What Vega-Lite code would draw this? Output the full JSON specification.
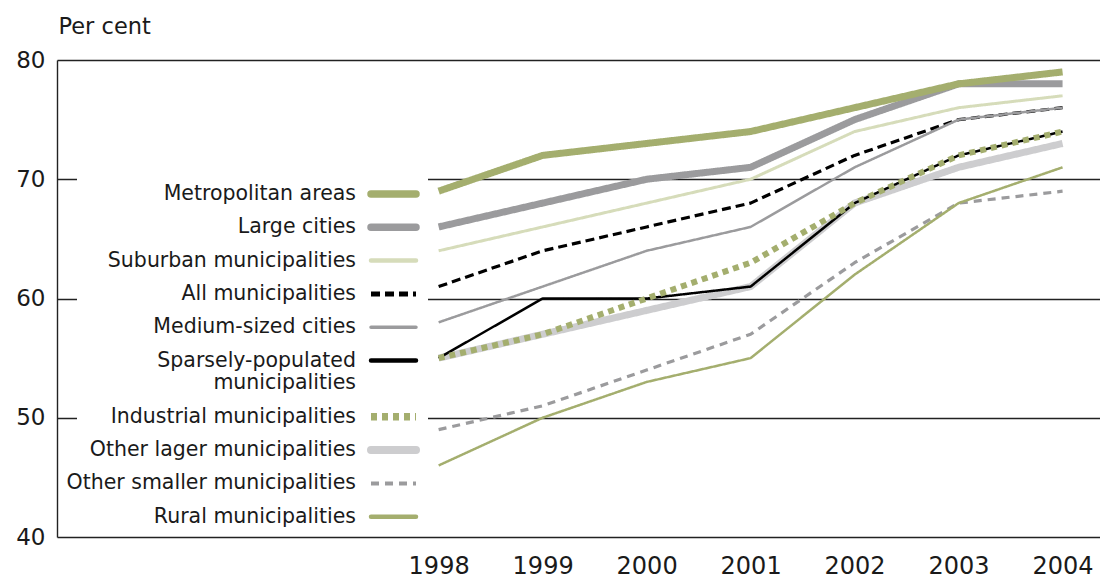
{
  "$schema": "https://vega.github.io/schema/vega-lite/v6.json",
  "width": 1043,
  "height": 477,
  "autosize": {"type": "none"},
  "padding": {"left": 57, "top": 60, "right": 0, "bottom": 41},
  "background": "white",
  "config": {
    "view": {"stroke": null},
    "font": "DejaVu Sans",
    "axis": {"labelFont": "DejaVu Sans", "labelColor": "#1a1a1a", "titleFont": "DejaVu Sans", "titleColor": "#1a1a1a"}
  },
  "data": {
    "values": [
      {"series": "Other lager municipalities", "year": 1998, "value": 55},
      {"series": "Other lager municipalities", "year": 1999, "value": 57},
      {"series": "Other lager municipalities", "year": 2000, "value": 59},
      {"series": "Other lager municipalities", "year": 2001, "value": 61},
      {"series": "Other lager municipalities", "year": 2002, "value": 68},
      {"series": "Other lager municipalities", "year": 2003, "value": 71},
      {"series": "Other lager municipalities", "year": 2004, "value": 73},
      {"series": "Sparsely-populated municipalities", "year": 1998, "value": 55},
      {"series": "Sparsely-populated municipalities", "year": 1999, "value": 60},
      {"series": "Sparsely-populated municipalities", "year": 2000, "value": 60},
      {"series": "Sparsely-populated municipalities", "year": 2001, "value": 61},
      {"series": "Sparsely-populated municipalities", "year": 2002, "value": 68},
      {"series": "Sparsely-populated municipalities", "year": 2003, "value": 72},
      {"series": "Sparsely-populated municipalities", "year": 2004, "value": 74},
      {"series": "Industrial municipalities", "year": 1998, "value": 55},
      {"series": "Industrial municipalities", "year": 1999, "value": 57},
      {"series": "Industrial municipalities", "year": 2000, "value": 60},
      {"series": "Industrial municipalities", "year": 2001, "value": 63},
      {"series": "Industrial municipalities", "year": 2002, "value": 68},
      {"series": "Industrial municipalities", "year": 2003, "value": 72},
      {"series": "Industrial municipalities", "year": 2004, "value": 74},
      {"series": "Large cities", "year": 1998, "value": 66},
      {"series": "Large cities", "year": 1999, "value": 68},
      {"series": "Large cities", "year": 2000, "value": 70},
      {"series": "Large cities", "year": 2001, "value": 71},
      {"series": "Large cities", "year": 2002, "value": 75},
      {"series": "Large cities", "year": 2003, "value": 78},
      {"series": "Large cities", "year": 2004, "value": 78},
      {"series": "Metropolitan areas", "year": 1998, "value": 69},
      {"series": "Metropolitan areas", "year": 1999, "value": 72},
      {"series": "Metropolitan areas", "year": 2000, "value": 73},
      {"series": "Metropolitan areas", "year": 2001, "value": 74},
      {"series": "Metropolitan areas", "year": 2002, "value": 76},
      {"series": "Metropolitan areas", "year": 2003, "value": 78},
      {"series": "Metropolitan areas", "year": 2004, "value": 79},
      {"series": "Suburban municipalities", "year": 1998, "value": 64},
      {"series": "Suburban municipalities", "year": 1999, "value": 66},
      {"series": "Suburban municipalities", "year": 2000, "value": 68},
      {"series": "Suburban municipalities", "year": 2001, "value": 70},
      {"series": "Suburban municipalities", "year": 2002, "value": 74},
      {"series": "Suburban municipalities", "year": 2003, "value": 76},
      {"series": "Suburban municipalities", "year": 2004, "value": 77},
      {"series": "All municipalities", "year": 1998, "value": 61},
      {"series": "All municipalities", "year": 1999, "value": 64},
      {"series": "All municipalities", "year": 2000, "value": 66},
      {"series": "All municipalities", "year": 2001, "value": 68},
      {"series": "All municipalities", "year": 2002, "value": 72},
      {"series": "All municipalities", "year": 2003, "value": 75},
      {"series": "All municipalities", "year": 2004, "value": 76},
      {"series": "Medium-sized cities", "year": 1998, "value": 58},
      {"series": "Medium-sized cities", "year": 1999, "value": 61},
      {"series": "Medium-sized cities", "year": 2000, "value": 64},
      {"series": "Medium-sized cities", "year": 2001, "value": 66},
      {"series": "Medium-sized cities", "year": 2002, "value": 71},
      {"series": "Medium-sized cities", "year": 2003, "value": 75},
      {"series": "Medium-sized cities", "year": 2004, "value": 76},
      {"series": "Other smaller municipalities", "year": 1998, "value": 49},
      {"series": "Other smaller municipalities", "year": 1999, "value": 51},
      {"series": "Other smaller municipalities", "year": 2000, "value": 54},
      {"series": "Other smaller municipalities", "year": 2001, "value": 57},
      {"series": "Other smaller municipalities", "year": 2002, "value": 63},
      {"series": "Other smaller municipalities", "year": 2003, "value": 68},
      {"series": "Other smaller municipalities", "year": 2004, "value": 69},
      {"series": "Rural municipalities", "year": 1998, "value": 46},
      {"series": "Rural municipalities", "year": 1999, "value": 50},
      {"series": "Rural municipalities", "year": 2000, "value": 53},
      {"series": "Rural municipalities", "year": 2001, "value": 55},
      {"series": "Rural municipalities", "year": 2002, "value": 62},
      {"series": "Rural municipalities", "year": 2003, "value": 68},
      {"series": "Rural municipalities", "year": 2004, "value": 71}
    ]
  },
  "mark": {"type": "line", "strokeJoin": "round", "strokeCap": "butt"},
  "encoding": {
    "x": {
      "field": "year",
      "type": "quantitative",
      "scale": {"domain": [1994.33, 2004.36], "nice": false, "zero": false},
      "axis": {
        "values": [1998, 1999, 2000, 2001, 2002, 2003, 2004],
        "format": "d",
        "grid": false,
        "domain": false,
        "ticks": false,
        "labelPadding": 17,
        "labelFontSize": 24,
        "labelFlush": false,
        "title": null
      }
    },
    "y": {
      "field": "value",
      "type": "quantitative",
      "scale": {"domain": [40, 80], "nice": false, "zero": false},
      "axis": {
        "values": [40, 50, 60, 70, 80],
        "grid": true,
        "gridColor": "#222222",
        "gridWidth": 1.4,
        "gridOpacity": 1,
        "domain": true,
        "domainColor": "#222222",
        "domainWidth": 1.4,
        "ticks": false,
        "labelPadding": 12,
        "labelFontSize": 23,
        "labelFlush": false,
        "title": "Per cent",
        "titleAngle": 0,
        "titleAlign": "left",
        "titleBaseline": "alphabetic",
        "titleX": 1,
        "titleY": -27,
        "titleFontSize": 22.5,
        "titleFontWeight": "normal"
      }
    },
    "color": {
      "field": "series",
      "type": "nominal",
      "scale": {
        "domain": ["Metropolitan areas", "Large cities", "Suburban municipalities", "All municipalities", "Medium-sized cities", "Sparsely-populated municipalities", "Industrial municipalities", "Other lager municipalities", "Other smaller municipalities", "Rural municipalities"],
        "range": ["#a4ae6e", "#9b9b9d", "#d6dcba", "#000000", "#9b9b9d", "#000000", "#a4ae6e", "#cdcdcf", "#9b9b9d", "#a4ae6e"]
      },
      "legend": {
        "title": null,
        "orient": "none",
        "legendX": 20,
        "legendY": 115.75,
        "direction": "vertical",
        "symbolType": "M-45,0H45",
        "symbolSize": 1,
        "labelAlign": "right",
        "labelBaseline": "middle",
        "labelOffset": -47.75,
        "symbolOffset": 298.25,
        "labelLimit": 0,
        "labelFont": "DejaVu Sans",
        "labelFontSize": 20.5,
        "labelColor": "#1a1a1a",
        "fillColor": "white",
        "padding": 8,
        "rowPadding": 12.3,
        "labelExpr": "datum.label === 'Sparsely-populated municipalities' ? ['Sparsely-populated', 'municipalities'] : datum.label",
        "encode": {
          "symbols": {
            "update": {
              "strokeWidth": {"signal": "(datum.value === 'Other lager municipalities' ? 8 : indexof(['Metropolitan areas','Large cities','Industrial municipalities'], datum.value) >= 0 ? 7.5 : datum.value === 'All municipalities' ? 5 : datum.value === 'Medium-sized cities' ? 3.5 : datum.value === 'Other smaller municipalities' ? 4 : 4.5)"},
              "strokeJoin": {"value": "round"},
              "strokeCap": {"signal": "(indexof(['All municipalities','Industrial municipalities','Other smaller municipalities'], datum.value) >= 0 ? 'butt' : 'round')"}
            }
          }
        }
      }
    },
    "strokeDash": {
      "field": "series",
      "type": "nominal",
      "scale": {
        "domain": ["Metropolitan areas", "Large cities", "Suburban municipalities", "All municipalities", "Medium-sized cities", "Sparsely-populated municipalities", "Industrial municipalities", "Other lager municipalities", "Other smaller municipalities", "Rural municipalities"],
        "range": [[1, 0], [1, 0], [1, 0], [9, 5], [1, 0], [1, 0], [6, 5], [1, 0], [8, 6], [1, 0]]
      },
      "legend": {"title": null}
    },
    "strokeWidth": {
      "condition": [
        {"test": "indexof(['Metropolitan areas','Large cities','Other lager municipalities'], datum.series) >= 0", "value": 7},
        {"test": "datum.series === 'Industrial municipalities'", "value": 6},
        {"test": "datum.series === 'All municipalities' || datum.series === 'Other smaller municipalities'", "value": 3.2},
        {"test": "datum.series === 'Suburban municipalities'", "value": 3}
      ],
      "value": 2.5
    }
  }
}
